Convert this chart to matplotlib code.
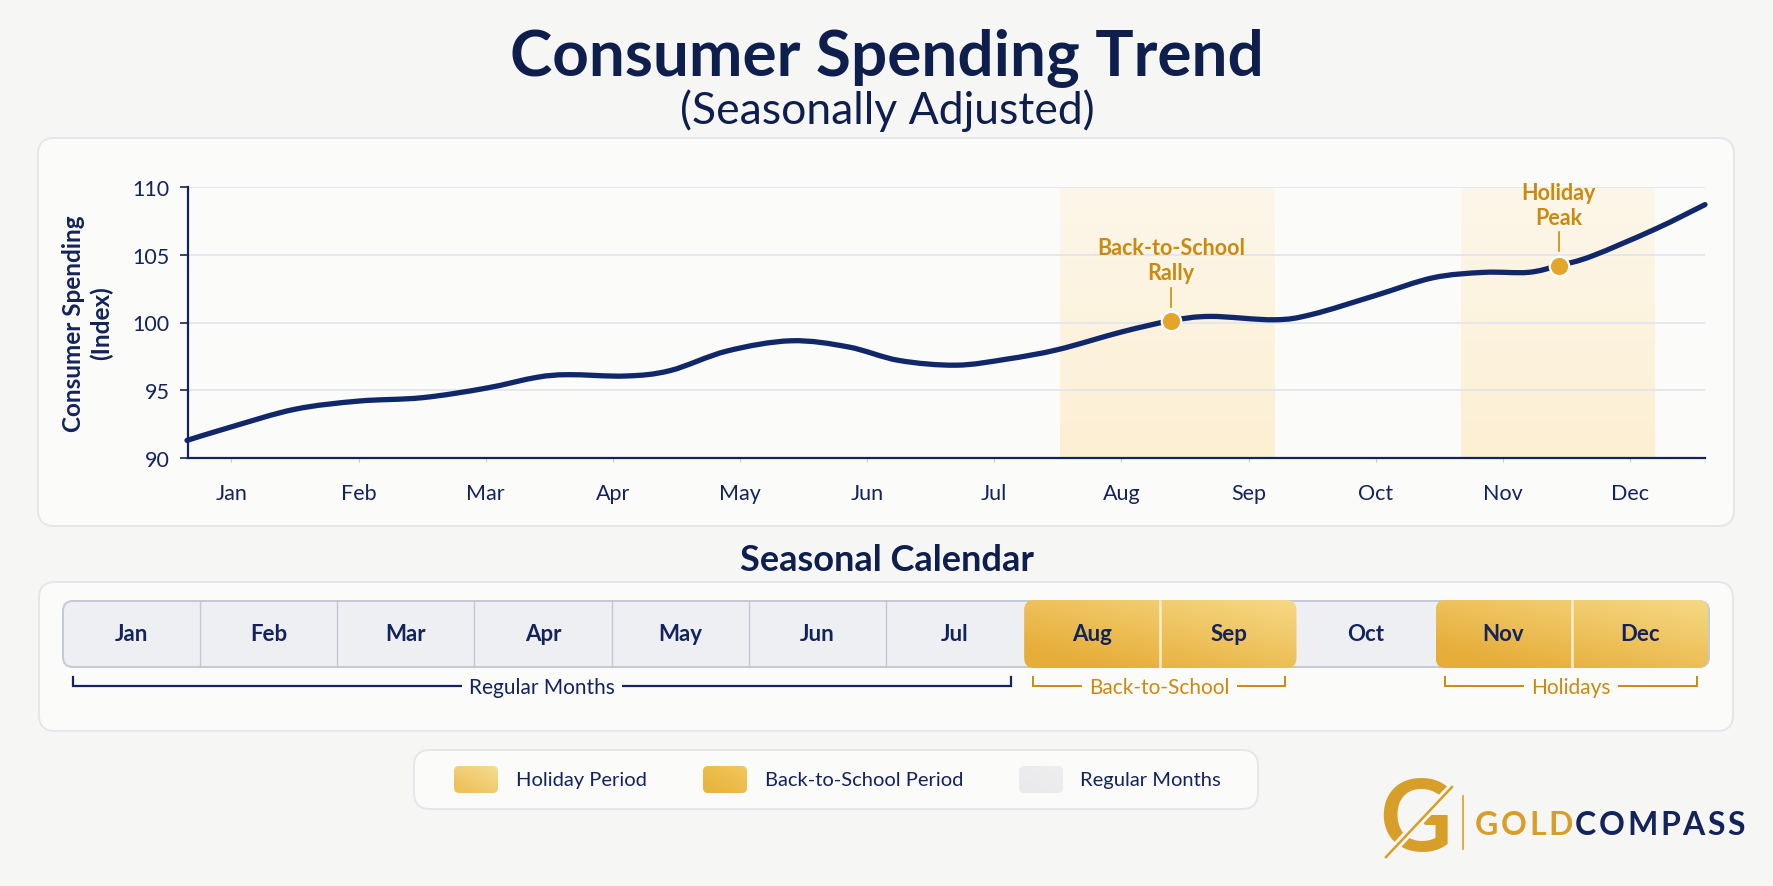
import numpy as np
import matplotlib
matplotlib.use("Agg")
import matplotlib.pyplot as plt
from matplotlib.patches import FancyBboxPatch, PathPatch
from matplotlib.path import Path
from matplotlib.colors import to_rgb

plt.rcParams['font.family'] = ['Lato', 'DejaVu Sans']

# ---- data ----
months = ['Jan', 'Feb', 'Mar', 'Apr', 'May', 'Jun',
          'Jul', 'Aug', 'Sep', 'Oct', 'Nov', 'Dec']
# month index positions along the curve, and spending index values
curve_x = [-0.35, 0.0, 0.5, 1.0, 1.5, 2.0, 2.4, 2.65, 3.1, 3.45, 3.9, 4.4,
           4.85, 5.25, 5.7, 6.1, 6.5, 7.0, 7.39, 7.7, 8.2, 8.5, 9.0, 9.45,
           9.85, 10.2, 10.44, 10.7, 11.2, 11.59]
curve_y = [91.3, 92.3, 93.6, 94.2, 94.45, 95.15, 95.95, 96.15, 96.05, 96.45,
           97.9, 98.65, 98.2, 97.2, 96.85, 97.3, 98.0, 99.3, 100.13, 100.45,
           100.2, 100.6, 102.0, 103.3, 103.7, 103.7, 104.2, 104.9, 106.9, 108.7]

events = ['Back-to-School\nRally', 'Holiday\nPeak']
event_x = [7.39, 10.44]
event_y = [100.13, 104.2]

# shaded periods on the chart (month index units)
school_span = (6.52, 8.21)
holiday_span = (9.67, 11.19)

y_ticks = [90, 95, 100, 105, 110]

# calendar groups
school_months = ['Aug', 'Sep']
holiday_months = ['Nov', 'Dec']

legend_labels = ['Holiday Period', 'Back-to-School Period', 'Regular Months']

# ---- colours ----
BG = '#f6f6f4'
PANEL = '#fbfbfa'
PANEL_EDGE = '#e3e5ea'
NAVY = '#13235b'
LINE = '#10276a'
GOLD = '#c98a12'
GOLD_DOT = '#e3a52a'
GRID = '#e3e5ee'

W, H = 1774, 887
fig = plt.figure(figsize=(W / 100, H / 100), dpi=100)
fig.patch.set_facecolor(BG)

bg = fig.add_axes([0, 0, 1, 1])
bg.set_xlim(0, W)
bg.set_ylim(H, 0)
bg.axis('off')
bg.set_zorder(0)


def rbox(ax, x, y, w, h, r, fc, ec, lw=1.2, z=1):
    p = FancyBboxPatch((x, y), w, h, boxstyle=f"round,pad=0,rounding_size={r}",
                       fc=fc, ec=ec, lw=lw, zorder=z)
    ax.add_patch(p)
    return p


def grad_box(ax, x, y, w, h, r, c1, c2, z=2, ec='none'):
    # diagonal gradient from c1 (top right) to c2 (bottom left)
    p = rbox(ax, x, y, w, h, r, 'none', ec, lw=1.0, z=z + 0.1)
    c1, c2 = np.array(to_rgb(c1)), np.array(to_rgb(c2))
    gx, gy = np.meshgrid(np.linspace(0, 1, 60), np.linspace(0, 1, 30))
    t = np.clip(0.55 * (1 - gx) + 0.6 * gy, 0, 1)[..., None]
    img = c1 * (1 - t) + c2 * t
    im = ax.imshow(img, extent=(x, x + w, y + h, y), aspect='auto',
                   zorder=z, interpolation='bilinear')
    im.set_clip_path(p)
    ax.set_xlim(0, W)
    ax.set_ylim(H, 0)
    return p


# titles
bg.text(W / 2, 58, 'Consumer Spending Trend', ha='center', va='center',
        fontsize=46, fontweight='bold', color='#0f1f4d')
bg.text(W / 2, 111, '(Seasonally Adjusted)', ha='center', va='center',
        fontsize=32, color='#0f1f4d')

# top panel
rbox(bg, 38, 139, 1696, 388, 16, PANEL, PANEL_EDGE, lw=1.3)

# ---- chart ----
ax = fig.add_axes([187.5 / W, 1 - 459 / H, (1705 - 187.5) / W, (459 - 188) / H])
ax.set_zorder(2)
ax.patch.set_alpha(0)
ax.set_xlim(-0.346, 11.59)
ax.set_ylim(90, 110)

for (a, b) in (school_span, holiday_span):
    top = np.array(to_rgb('#fdf7ea'))
    bot = np.array(to_rgb('#fcefd3'))
    t = np.linspace(0, 1, 50)[:, None]
    img = (top * (1 - t) + bot * t)[:, None, :]
    ax.imshow(img, extent=(a, b, 90, 110), aspect='auto', zorder=0.5,
              interpolation='bilinear')

ax.set_yticks(y_ticks)
ax.grid(axis='y', color=GRID, lw=1.3, zorder=0.6)
ax.set_axisbelow(True)
ax.set_xticks(range(len(months)))
ax.set_xticklabels(months)
for s in ('top', 'right'):
    ax.spines[s].set_visible(False)
for s in ('left', 'bottom'):
    ax.spines[s].set_color(NAVY)
    ax.spines[s].set_linewidth(1.6)
ax.tick_params(axis='x', length=3, width=0.8, color='#c5c9d6', pad=15,
               labelsize=15.5, labelcolor=NAVY)
ax.tick_params(axis='y', length=6, width=1.2, color=NAVY, pad=7,
               labelsize=15.5, labelcolor=NAVY)
ax.set_ylabel('Consumer Spending\n(Index)', fontsize=17.5, fontweight='bold',
              color=NAVY, labelpad=14, linespacing=1.2)

# smooth curve through the read points (Catmull-Rom as cubic Bezier)
pts = np.column_stack([curve_x, curve_y])
verts = [pts[0]]
codes = [Path.MOVETO]
for i in range(len(pts) - 1):
    p0 = pts[i - 1] if i > 0 else pts[i]
    p1, p2 = pts[i], pts[i + 1]
    p3 = pts[i + 2] if i + 2 < len(pts) else pts[i + 1]
    verts += [p1 + (p2 - p0) / 6, p2 - (p3 - p1) / 6, p2]
    codes += [Path.CURVE4] * 3
ax.add_patch(PathPatch(Path(verts, codes), fc='none', ec=LINE, lw=3.8,
                       capstyle='round', joinstyle='round', zorder=3,
                       clip_on=False))

for lab, ex, ey in zip(events, event_x, event_y):
    ax.plot([ex, ex], [ey + 1.05, ey + 2.45], color=GOLD, lw=1.2, zorder=3)
    ax.plot(ex, ey, 'o', ms=14, mfc=GOLD_DOT, mec='white', mew=1.6, zorder=4)
    ax.text(ex, ey + 2.75, lab, ha='center', va='bottom', fontsize=15.5,
            fontweight='bold', color=GOLD, linespacing=1.25, zorder=4)

# ---- seasonal calendar ----
bg.text(W / 2, 561, 'Seasonal Calendar', ha='center', va='center',
        fontsize=26, fontweight='bold', color='#0f1f4d')
rbox(bg, 39, 583, 1694, 149, 16, PANEL, PANEL_EDGE, lw=1.3)

cal_x0, cal_x1 = 63, 1709
cal_y0, cal_h = 602, 66
cw = (cal_x1 - cal_x0) / len(months)
rbox(bg, cal_x0, cal_y0, cal_x1 - cal_x0, cal_h, 10, '#eeeff2', '#c3c8d6', lw=1.4, z=2)


def group_box(names, c1, c2):
    i0 = months.index(names[0])
    i1 = months.index(names[-1]) + 1
    grad_box(bg, cal_x0 + i0 * cw + 1, cal_y0 - 1, (i1 - i0) * cw - 2, cal_h + 2,
             10, c1, c2, z=3)


group_box(school_months, '#f6d985', '#e6ad38')
group_box(holiday_months, '#f6d985', '#e6ad38')

for i, m in enumerate(months):
    if 0 < i:
        gold = m in school_months[1:] + holiday_months[1:]
        if months[i - 1] in school_months[-1:] + ['Oct'] or m in ('Aug', 'Nov', 'Oct'):
            pass
        else:
            bg.plot([cal_x0 + i * cw] * 2, [cal_y0, cal_y0 + cal_h],
                    color='#fbeecb' if gold else '#c3c8d6', lw=1.8 if gold else 1.0,
                    zorder=4)
    bg.text(cal_x0 + (i + 0.5) * cw, cal_y0 + cal_h / 2, m, ha='center', va='center',
            fontsize=16, fontweight='bold', color=NAVY, zorder=5)


def bracket(i0, i1, label, color, lw):
    xa = cal_x0 + i0 * cw + 10
    xb = cal_x0 + i1 * cw - 12
    yb = 687
    bg.plot([xa, xa, xb, xb], [yb - 9, yb, yb, yb - 9], color=color, lw=lw,
            zorder=3, solid_joinstyle='miter')
    bg.text((xa + xb) / 2, yb + 1, label, ha='center', va='center', fontsize=15,
            color=color, zorder=4,
            bbox=dict(boxstyle='square,pad=0.35', fc=PANEL, ec='none'))


bracket(0, 7, 'Regular Months', NAVY, 1.6)
bracket(7, 9, 'Back-to-School', GOLD, 1.4)
bracket(10, 12, 'Holidays', GOLD, 1.4)

# ---- legend ----
rbox(bg, 414, 751, 844, 59, 16, PANEL, PANEL_EDGE, lw=1.3)
sw_x = [454, 703, 1019]
txt_x = [516, 765, 1080]
sw_cols = [('#f6dc92', '#edc15b'), ('#f1c75a', '#e9b440'), ('#eeeeef', '#eaeaec')]
for sx, tx, lab, (c1, c2) in zip(sw_x, txt_x, legend_labels, sw_cols):
    grad_box(bg, sx, 767, 44, 27, 5, c1, c2, z=3)
    bg.text(tx, 781, lab, ha='left', va='center', fontsize=14.5, color=NAVY, zorder=4)

# ---- logo ----
bg.text(1416, 823, 'G', ha='center', va='center', fontsize=72, fontweight='bold',
        color='#d89e2a', zorder=3)
bg.plot([1384, 1454], [860, 786], color=BG, lw=6, zorder=4, solid_capstyle='butt')
bg.plot([1386, 1452], [858, 788], color='#d89e2a', lw=1.8, zorder=5)
bg.plot([1463, 1463], [797, 850], color='#d89e2a', lw=1.2, zorder=3)

r = fig.canvas.get_renderer()
cx = 1475
for k, ch in enumerate('GOLDCOMPASS'):
    t = bg.text(cx, 826, ch, ha='left', va='center', fontsize=23, fontweight='bold',
                color='#d89e2a' if k < 4 else '#13235b', zorder=3)
    bb = t.get_window_extent(renderer=r)
    cx += bb.width + 2.5

fig.savefig('out.png', dpi=100, facecolor=BG)
